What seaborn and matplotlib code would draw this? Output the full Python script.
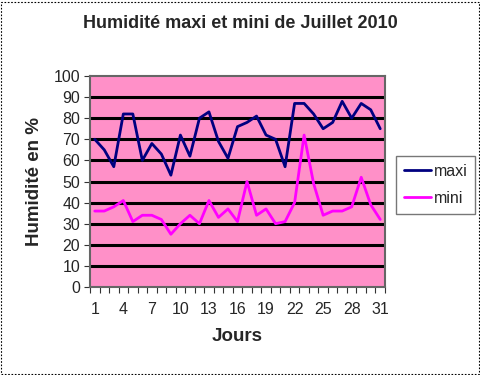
import matplotlib
matplotlib.use("Agg")
import matplotlib.pyplot as plt
import seaborn as sns
import pandas as pd
from matplotlib.patches import Rectangle
from matplotlib.lines import Line2D

days = list(range(1, 32))
maxi = [70, 65, 57, 82, 82, 60, 68, 63, 53, 72, 62, 80, 83, 69, 61, 76,
        78, 81, 72, 70, 57, 87, 87, 82, 75, 78, 88, 80, 87, 84, 75]
mini = [36, 36, 38, 41, 31, 34, 34, 32, 25, 30, 34, 30, 41, 33, 37, 31,
        50, 34, 37, 30, 31, 40, 72, 49, 34, 36, 36, 38, 52, 39, 32]
xtick_labels = [1, 4, 7, 10, 13, 16, 19, 22, 25, 28, 31]
yticks = list(range(0, 101, 10))

df = pd.DataFrame({"Jour": days * 2,
                   "val": maxi + mini,
                   "serie": ["maxi"] * 31 + ["mini"] * 31})

sns.set_theme(style="white")
plt.rcParams['font.family'] = ['Liberation Sans', 'DejaVu Sans']

fig = plt.figure(figsize=(4.81, 3.75), dpi=100)
ax = fig.add_axes([90 / 481, 1 - 287 / 375, 295 / 481, 211 / 375])
ax.set_facecolor('#FF90C8')

for y in yticks[1:-1]:
    ax.axhline(y, color='black', lw=2.2, zorder=1)

sns.lineplot(data=df, x="Jour", y="val", hue="serie",
             palette={"maxi": "#000080", "mini": "#FF00FF"},
             lw=2.0, ax=ax, zorder=3, legend=False)

ax.set_xlim(0.5, 31.5)
ax.set_ylim(0, 100)
ax.set_yticks(yticks)
ax.set_yticklabels([str(v) for v in yticks], fontsize=11.5)
ax.set_xticks([d + 0.5 for d in [0] + days], minor=True)
ax.set_xticks(xtick_labels)
ax.set_xticklabels([str(v) for v in xtick_labels], fontsize=11.5)
ax.tick_params(axis='x', which='major', length=0, pad=11)
ax.tick_params(axis='x', which='minor', length=4, width=0.8, color='#333333', direction='out', bottom=True)
ax.tick_params(axis='y', length=4, width=0.8, color='#333333', direction='out', left=True, pad=3)
for s in ax.spines.values():
    s.set_color('#666666')
    s.set_linewidth(1.5)

ax.set_xlabel("Jours", fontsize=13.5, fontweight='bold', labelpad=8)
ax.set_ylabel("Humidité en %", fontsize=13.5, fontweight='bold', labelpad=8)

fig.text(240 / 481, 1 - 23 / 375, "Humidité maxi et mini de Juillet 2010",
         ha='center', va='center', fontsize=13, fontweight='bold')

handles = [Line2D([], [], color="#000080", lw=2.0), Line2D([], [], color="#FF00FF", lw=2.0)]
leg = fig.legend(handles, ["maxi", "mini"], loc='upper left',
                 bbox_to_anchor=(396 / 481, 1 - 156 / 375), fontsize=11.5,
                 frameon=True, fancybox=False, shadow=False, handlelength=1.7,
                 handletextpad=0.15, borderpad=0.5, labelspacing=0.75, borderaxespad=0)
leg.get_frame().set_edgecolor('#555555')
leg.get_frame().set_linewidth(1.0)

fig.patches.append(Rectangle((0.002, 0.003), 0.994, 0.993, transform=fig.transFigure,
                             fill=False, edgecolor='black', lw=0.8, ls=(0, (1.5, 1.5))))

fig.savefig("out.png", dpi=100, facecolor='white')
